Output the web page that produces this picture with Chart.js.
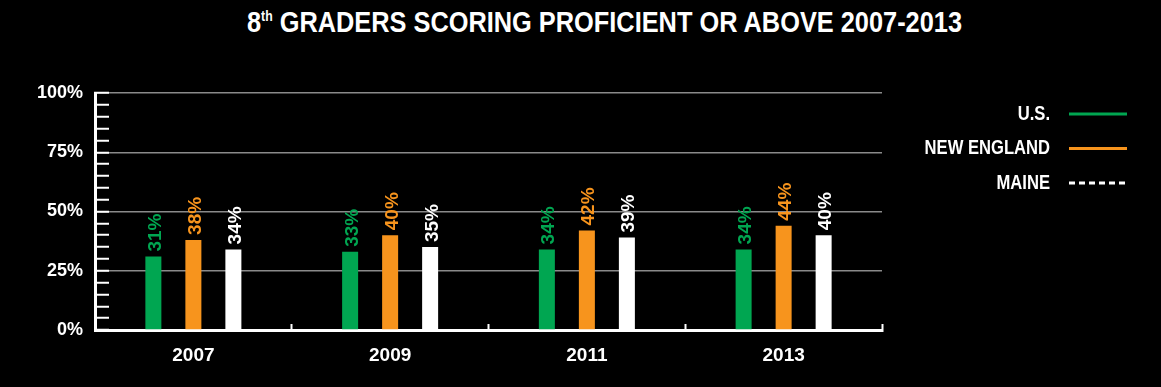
<!DOCTYPE html>
<html>
<head>
<meta charset="utf-8">
<title>8th Graders Scoring Proficient or Above 2007-2013</title>
<script src="https://cdn.jsdelivr.net/npm/chart.js@4.4.1/dist/chart.umd.min.js"></script>
<style>
  html, body { margin: 0; padding: 0; background: #000; }
  #wrap { position: relative; width: 1161px; height: 387px; overflow: hidden; }
  #chart { position: absolute; left: 0; top: 0; }
  #title {
    position: absolute; left: 247px; top: 8px;
    font-family: 'Liberation Sans', Arial, sans-serif; font-weight: bold;
    font-size: 29px; line-height: 29px; color: #fff; white-space: nowrap;
    transform-origin: 0 0;
  }
  #title sup { font-size: 14px; vertical-align: 11px; line-height: 0; }
</style>
</head>
<body>
<div id="wrap">
  <div id="title">8<sup>th</sup> GRADERS SCORING PROFICIENT OR ABOVE 2007-2013</div>
  <canvas id="chart" width="1161" height="387"></canvas>
</div>
<script>
// Survey years and percentage of 8th graders scoring proficient or above
const years = ['2007', '2009', '2011', '2013'];
const usValues = [31, 33, 34, 34];
const newEnglandValues = [38, 40, 42, 44];
const maineValues = [34, 35, 39, 40];
const seriesNames = ['U.S.', 'NEW ENGLAND', 'MAINE'];
const yTickValues = [0, 25, 50, 75, 100];

const GREEN = '#00a651';
const ORANGE = '#f7941d';
const WHITE = '#ffffff';
const FONT = "'Liberation Sans', Arial, sans-serif";

// Squeeze the title to its condensed width
(function () {
  const t = document.getElementById('title');
  const w = t.getBoundingClientRect().width;
  t.style.transform = 'scaleX(' + (715 / w) + ')';
})();

// Rotated value labels above each bar, in the bar's colour
const valueLabels = {
  id: 'valueLabels',
  afterDatasetsDraw(chart) {
    const ctx = chart.ctx;
    ctx.save();
    ctx.font = 'bold 19px ' + FONT;
    chart.data.datasets.forEach((ds, i) => {
      const meta = chart.getDatasetMeta(i);
      meta.data.forEach((bar, j) => {
        ctx.save();
        ctx.translate(bar.x + 7.5, bar.y - 5);
        ctx.rotate(-Math.PI / 2);
        ctx.fillStyle = ds.backgroundColor;
        ctx.textAlign = 'left';
        ctx.textBaseline = 'alphabetic';
        ctx.fillText(ds.data[j] + '%', 0, 0);
        ctx.restore();
      });
    });
    ctx.restore();
  }
};

// Legend on the right: name first, then a line sample (dashed for Maine)
const sideLegend = {
  id: 'sideLegend',
  afterDraw(chart, args, opts) {
    const ctx = chart.ctx;
    const area = chart.chartArea;
    ctx.save();
    chart.data.datasets.forEach((ds, i) => {
      const y = area.top + opts.firstOffset + opts.rowGap * i;
      const textRight = area.right + opts.textOffset;
      ctx.save();
      ctx.translate(textRight, y);
      ctx.scale(opts.condense, 1);
      ctx.font = 'bold 20px ' + FONT;
      ctx.fillStyle = '#fff';
      ctx.textAlign = 'right';
      ctx.textBaseline = 'middle';
      ctx.fillText(ds.label, 0, 0);
      ctx.restore();
      ctx.beginPath();
      ctx.setLineDash(ds.legendDash || []);
      ctx.lineWidth = 3;
      ctx.strokeStyle = ds.backgroundColor;
      ctx.moveTo(area.right + opts.lineStart, y);
      ctx.lineTo(area.right + opts.lineEnd, y);
      ctx.stroke();
    });
    ctx.restore();
  }
};

new Chart(document.getElementById('chart'), {
  type: 'bar',
  data: {
    labels: years,
    datasets: [
      { label: seriesNames[0], data: usValues, backgroundColor: GREEN },
      { label: seriesNames[1], data: newEnglandValues, backgroundColor: ORANGE },
      { label: seriesNames[2], data: maineValues, backgroundColor: WHITE, legendDash: [6, 4] }
    ]
  },
  options: {
    responsive: false,
    animation: false,
    events: [],
    layout: { padding: { left: 0, right: 279, top: 93, bottom: 0 } },
    datasets: { bar: { categoryPercentage: 0.61, barPercentage: 0.4 } },
    plugins: {
      legend: { display: false },
      tooltip: { enabled: false },
      sideLegend: { firstOffset: 21, rowGap: 34.5, textOffset: 168, lineStart: 187, lineEnd: 245, condense: 0.83 }
    },
    scales: {
      x: {
        offset: true,
        afterFit(scale) { scale.height = 57; },
        border: { display: true, color: '#fff', width: 3 },
        grid: {
          offset: true, drawOnChartArea: false, drawTicks: true,
          tickLength: -6, tickColor: '#fff', tickWidth: 2
        },
        ticks: {
          color: '#fff', padding: 20,
          font: { family: FONT, weight: 'bold', size: 19 }
        }
      },
      y: {
        min: 0, max: 100,
        afterFit(scale) { scale.width = 95; },
        border: { display: true, color: '#fff', width: 3 },
        grid: {
          drawTicks: true, tickLength: -14, tickColor: '#fff', tickWidth: 2,
          lineWidth: 1.5,
          color: (c) => (c.tick && c.tick.value > 0 && yTickValues.includes(c.tick.value)) ? '#8a8a8a' : 'rgba(0,0,0,0)'
        },
        ticks: {
          stepSize: 5, autoSkip: false, color: '#fff', padding: 26,
          font: { family: FONT, weight: 'bold', size: 18 },
          callback: (v) => yTickValues.includes(v) ? v + '%' : ''
        }
      }
    }
  },
  plugins: [valueLabels, sideLegend]
});
</script>
</body>
</html>
